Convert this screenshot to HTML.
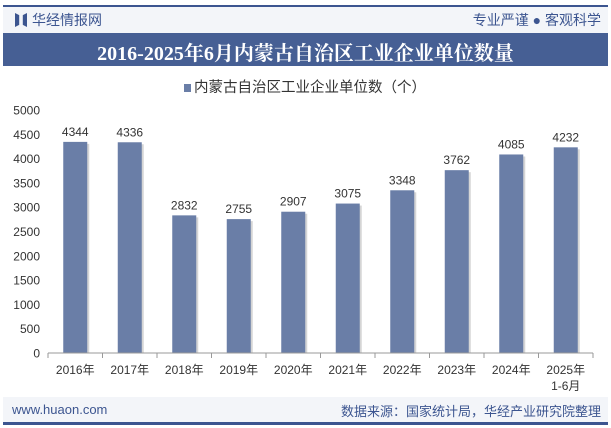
<!DOCTYPE html>
<html><head><meta charset="utf-8"><style>
body{margin:0;width:611px;height:428px;background:#fff;font-family:"Liberation Sans","Noto Sans CJK SC",sans-serif;position:relative;overflow:hidden}
.abs{position:absolute}
</style></head><body>
<div class="abs" style="left:3px;top:5px;width:605px;height:2px;background:#3c5590"></div>
<div class="abs" style="left:3px;top:7px;width:605px;height:26px;background:#f3f5f9"></div>
<div class="abs" style="left:15px;top:13px;width:12px;height:14px;background:#3c5590;clip-path:polygon(0 0,35% 15%,35% 85%,0 100%,0 0,100% 0,100% 100%,65% 85%,65% 15%,100% 0)"></div>
<div class="abs" style="left:32px;top:10px;font-size:14px;color:#3c5590">华经情报网</div>
<div class="abs" style="right:10px;top:10px;font-size:14px;color:#3c5590">专业严谨 ● 客观科学</div>
<div class="abs" style="left:3px;top:33px;width:605px;height:33px;background:#465f94"></div>
<div class="abs" style="left:3px;top:37px;width:605px;text-align:center;font-size:20px;font-weight:bold;color:#fff;font-family:'Liberation Serif','Noto Serif CJK SC',serif">2016-2025年6月内蒙古自治区工业企业单位数量</div>
<div class="abs" style="left:184px;top:76px;font-size:14.5px;color:#333"><span style="display:inline-block;width:7px;height:8px;background:#6a7ea7;margin-right:3px"></span>内蒙古自治区工业企业单位数（个）</div>
<svg class="abs" style="left:0;top:0" width="611" height="428" id="chart"></svg>
<div class="abs" style="left:3px;top:397px;width:605px;height:25px;background:#f3f5f9"></div>
<div class="abs" style="left:12px;top:402px;font-size:13px;color:#3c5590">www.huaon.com</div>
<div class="abs" style="right:10px;top:401px;font-size:13px;color:#3c5590">数据来源：国家统计局，华经产业研究院整理</div>
<div class="abs" style="left:3px;top:422px;width:605px;height:3px;background:#3c5590"></div>
<script>
const categories=["2016年","2017年","2018年","2019年","2020年","2021年","2022年","2023年","2024年","2025年\n1-6月"];
const values=[4344,4336,2832,2755,2907,3075,3348,3762,4085,4232];
const yTicks=[0,500,1000,1500,2000,2500,3000,3500,4000,4500,5000];
const svg=document.getElementById('chart');const NS='http://www.w3.org/2000/svg';
const x0=48,x1=593,y0=353,y1=110,yMax=5000;
const bw=(x1-x0)/categories.length;
const y=v=>y0-(v/yMax)*(y0-y1);
const xc=i=>x0+bw*(i+0.5);
function mk(t,a,txt){const e=document.createElementNS(NS,t);for(const k in a)e.setAttribute(k,a[k]);if(txt!==undefined)e.textContent=txt;svg.appendChild(e);return e;}
yTicks.forEach(t=>{const e=mk('text',{x:40,y:y(t)+4.5,'text-anchor':'end','font-size':12,fill:'#333'},t);

});
values.forEach((v,i)=>{
const s=mk('rect',{x:xc(i)-10,y:y(v)+2,width:24,height:y0-y(v)-2,fill:'#d5d5d5'});


const r=mk('rect',{x:xc(i)-12,y:y(v),width:24,height:y0-y(v),fill:'#6a7ea7'});


const l=mk('text',{x:xc(i),y:y(v)-6,'text-anchor':'middle','font-size':12,fill:'#333'},v);


const parts=categories[i].split('\n');
parts.forEach((p,j)=>{const c=mk('text',{x:xc(i),y:y0+21+j*16,'text-anchor':'middle','font-size':12,fill:'#333'},p);

});
const tk=mk('line',{x1:x0+bw*i,x2:x0+bw*i,y1:y0,y2:y0+5,stroke:'#999'});


});
const ax=mk('line',{x1:x0,x2:x1,y1:y0,y2:y0,stroke:'#999'});


const te=mk('line',{x1:x1,x2:x1,y1:y0,y2:y0+5,stroke:'#999'});


</script>
</body></html>
